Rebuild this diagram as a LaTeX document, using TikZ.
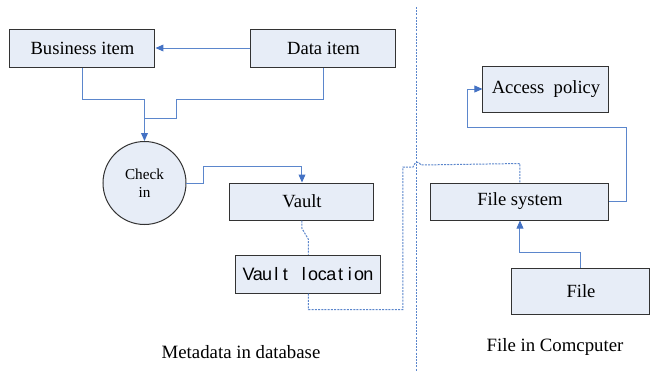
\documentclass[tikz,border=0pt]{standalone}
\usepackage{fontspec}
\setmainfont{Liberation Serif}
\newfontfamily\arialfont{Liberation Sans}
\usetikzlibrary{calc,arrows.meta}
\definecolor{boxfill}{HTML}{E7EDF7}
\definecolor{boxline}{HTML}{333333}
\definecolor{lineblue}{HTML}{5B86CC}
\definecolor{tipblue}{HTML}{4472C4}
\newcommand\mcell[1]{\makebox[4.6pt]{#1}}
\begin{document}
\begin{tikzpicture}[x=0.5pt,y=-0.5pt,
  box/.style={draw=boxline,fill=boxfill,line width=0.5pt,inner sep=0pt,font=\fontsize{9.3}{11}\selectfont},
  conn/.style={draw=lineblue,line width=0.5pt},
  arr/.style={conn,-{Triangle[length=4pt,width=3.4pt,fill=tipblue,color=tipblue]}},
  dconn/.style={draw=lineblue,line width=0.5pt,dash pattern=on 1pt off 0.6pt},
  lbl/.style={inner sep=0pt,font=\fontsize{9.4}{11}\selectfont}]
\useasboundingbox (0,0) rectangle (650,371);
\fill[white] (0,0) rectangle (650,371);
% nodes
\node[box,minimum width=72.5pt,minimum height=19pt] (biz) at (82.5,48) {Business item};
\node[box,minimum width=72.5pt,minimum height=19pt] (data) at (323.5,48) {Data item};
\node[box,circle,minimum size=41.5pt,align=center,font=\fontsize{7.6}{9}\selectfont] (chk) at (144.5,183) {Check\\in};
\node[box,minimum width=72pt,minimum height=18.5pt] (vault) at (302,201.5) {Vault};
\node[box,minimum width=72.5pt,minimum height=19pt,font=\arialfont\fontsize{9}{11}\selectfont] (loc) at (308.5,274) {\mcell{V}\mcell{a}\mcell{u}\mcell{l}\mcell{t}\mcell{ }\mcell{l}\mcell{o}\mcell{c}\mcell{a}\mcell{t}\mcell{i}\mcell{o}\mcell{n}};
\node[box,minimum width=63pt,minimum height=23pt] (acc) at (546,89) {Access\ \ policy};
\node[box,minimum width=89pt,minimum height=18.5pt] (fs) at (520,201.5) {File system};
\node[box,minimum width=69pt,minimum height=23pt] (file) at (581,291) {File};
\node[lbl] (meta) at (241,352) {Metadata in database};
\node[lbl] (fic) at (555,347) {File in Comcputer};
% divider
\coordinate (dtop) at (417,7);
\coordinate (dbot) at (417,371);
\draw[dconn] (dtop) -- (dbot);
% connectors
\draw[arr] (data.west) -- (biz.east);
\draw[arr] (biz.south) |- (144.5,99) -- (chk.north);
\draw[conn] (data.south) |- (177,99) |- (144.5,118);
\draw[arr] (chk.east) -- ++(17,0) |- ($(vault.north)+(0,-16)$) -- (vault.north);
\draw[dconn] (vault.south) -- ++(0,8) -- ($(loc.north)+(0,-15)$) -- (loc.north);
\draw[dconn] (loc.south) -- ++(0,16) -| (403,167) -- (413,167) .. controls (415,161) and (419,161) .. (421,165) -- ($(fs.north)+(0,-19)$) -- (fs.north);
\draw[arr] (file.north) |- ($(fs.south)+(0,32)$) -- (fs.south);
\draw[arr] (fs.east) -| ++(17,-74) -| ($(acc.west)+(-15,0)$) -- (acc.west);
\end{tikzpicture}
\end{document}
